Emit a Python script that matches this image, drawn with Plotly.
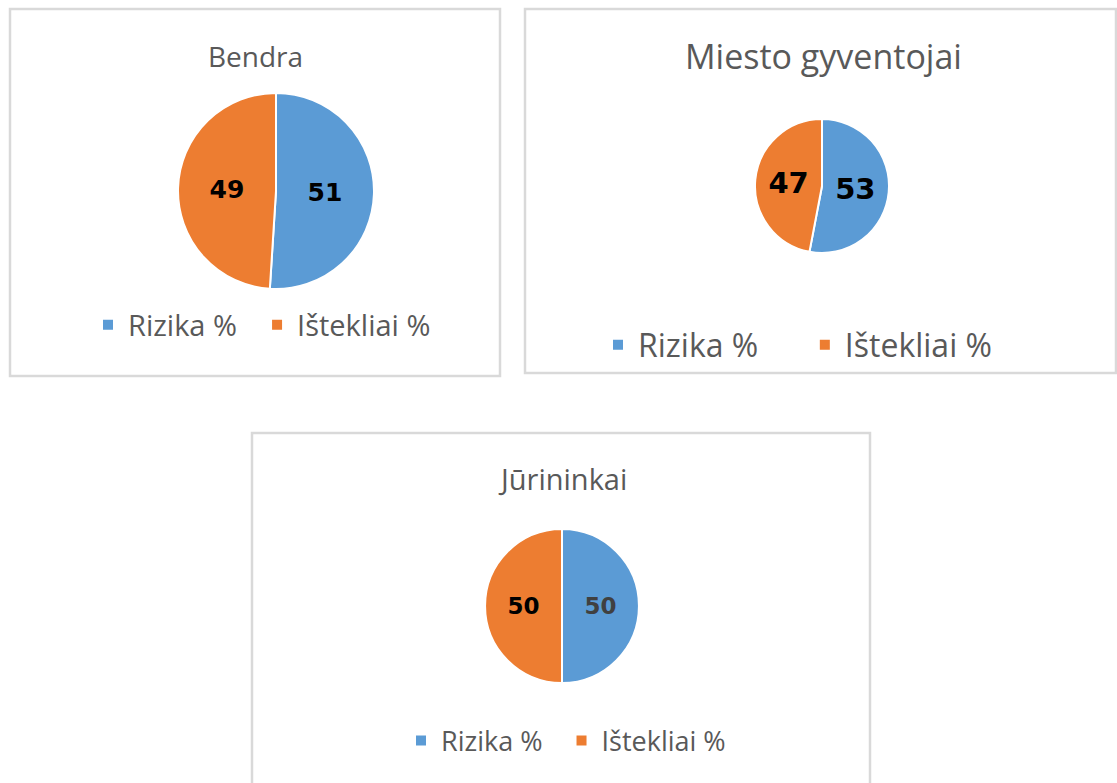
import plotly.graph_objects as go

W, H = 1117, 783

labels = ["Rizika %", "Ištekliai %"]
titles = ["Bendra", "Miesto gyventojai", "Jūrininkai"]
values_bendra = [51, 49]
values_miesto = [53, 47]
values_jurininkai = [50, 50]
colors = ["#5B9BD5", "#ED7D31"]

def px_x(v):
    return v / W

def px_y(v):
    return 1 - v / H

NB = "\u00a0"
fig = go.Figure()

# (values, cx, cy, r, legend, label colors, label size, unique suffix, nbsp padding after first item)
specs = [
    (values_bendra, 276, 191, 98, "legend", ["#000000", "#000000"], 25, "", 2),
    (values_miesto, 822, 186, 67, "legend2", ["#000000", "#000000"], 29, "\u200b", 5),
    (values_jurininkai, 562, 606, 77, "legend3", ["#404040", "#000000"], 23, "\u200b\u200b", 2),
]

for vals, cx, cy, r, lg, tcol, tsize, suf, pad in specs:
    lab = [labels[0] + NB * pad + suf, labels[1] + suf]
    fig.add_trace(go.Pie(
        labels=lab,
        values=vals,
        sort=False,
        direction="clockwise",
        rotation=0,
        marker=dict(colors=colors, line=dict(color="white", width=2)),
        textinfo="value",
        textposition="inside",
        insidetextorientation="horizontal",
        textfont=dict(family="DejaVu Sans", size=tsize, color=tcol, weight="bold"),
        domain=dict(x=[px_x(cx - r), px_x(cx + r)], y=[px_y(cy + r), px_y(cy - r)]),
        legend=lg,
        hoverinfo="label+value",
        showlegend=True,
    ))

# boxes
boxes = [(10, 9, 500, 376), (525, 9, 1116, 373), (252, 433, 870, 790)]
for x0, y0, x1, y1 in boxes:
    fig.add_shape(type="rect", xref="paper", yref="paper",
                  x0=px_x(x0), x1=px_x(x1), y0=px_y(y1), y1=px_y(y0),
                  line=dict(color="#D9D9D9", width=2.5), fillcolor="rgba(0,0,0,0)")

# titles
title_pos = [(255, 56, 28), (823, 56, 34), (562, 478, 29)]
for t, (x, y, s) in zip(titles, title_pos):
    fig.add_annotation(text=t, x=px_x(x), y=px_y(y), xref="paper", yref="paper",
                       showarrow=False, xanchor="center", yanchor="middle",
                       font=dict(family="Open Sans", size=s, color="#595959"))

legend_common = dict(orientation="h", xanchor="left", yanchor="middle",
                     bgcolor="rgba(0,0,0,0)", traceorder="normal")
fig.update_layout(
    width=W, height=H,
    margin=dict(l=0, r=0, t=0, b=0),
    paper_bgcolor="white",
    plot_bgcolor="white",
    legend=dict(x=px_x(102 - 14), y=px_y(325), font=dict(family="Open Sans", size=29, color="#595959"),
                **legend_common),
    legend2=dict(x=px_x(612 - 14), y=px_y(345), font=dict(family="Open Sans", size=32, color="#595959"),
                 **legend_common),
    legend3=dict(x=px_x(415 - 14), y=px_y(741), font=dict(family="Open Sans", size=27, color="#595959"),
                 **legend_common),
)

fig.write_html("out.html", config={"displayModeBar": False},
               post_script="document.body.style.margin='0px';")
